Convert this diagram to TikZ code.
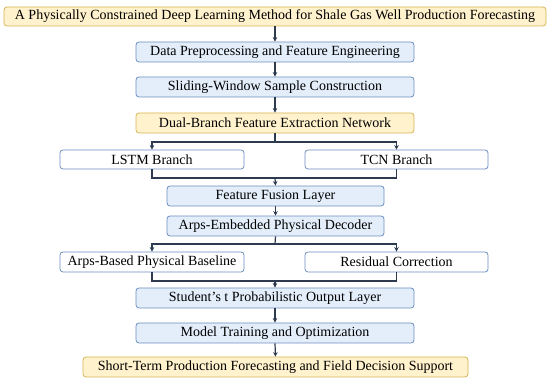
\documentclass[tikz,border=0pt]{standalone}
\usepackage{fontspec}
\setmainfont{Liberation Serif}
\newfontfamily\tnr{Liberation Serif}
\usetikzlibrary{arrows.meta}
\definecolor{yfill}{HTML}{FFF2CC}
\definecolor{ydraw}{HTML}{D6B656}
\definecolor{bfill}{HTML}{E3EEFA}
\definecolor{bdraw}{HTML}{6C8EBF}
\definecolor{arr}{HTML}{2E3B4E}
\begin{document}
\begin{tikzpicture}[x=1pt,y=-1pt,
  box/.style={draw, rounded corners=3pt, line width=0.8pt, inner sep=0pt, font=\tnr\fontsize{14}{16}\selectfont},
  ybox/.style={box, fill=yfill, draw=ydraw},
  bbox/.style={box, fill=bfill, draw=bdraw},
  wbox/.style={box, fill=white, draw=bdraw},
  conn/.style={draw=arr, line width=1.2pt, -{Stealth[length=4.5pt,width=4.5pt]}},
  line/.style={draw=arr, line width=1.2pt}]
\useasboundingbox (0,0) rectangle (550,382);
\newcommand{\bx}[7]{\node[#1, minimum width={#4-#2}, minimum height={#5-#3}] (#6) at ({(#2+#4)/2},{(#3+#5)/2}) {#7};}
\bx{ybox}{4}{7}{546}{26}{t}{A Physically Constrained Deep Learning Method for Shale Gas Well Production Forecasting}
\bx{bbox}{136}{42}{414}{62}{a}{Data Preprocessing and Feature Engineering}
\bx{bbox}{136}{77}{414}{97}{b}{Sliding-Window Sample Construction}
\bx{ybox}{136}{113}{414}{133}{c}{Dual-Branch Feature Extraction Network}
\bx{wbox}{60}{150}{244}{169}{l}{LSTM Branch}
\bx{wbox}{305}{150}{488}{169}{r}{TCN Branch}
\bx{bbox}{167}{186}{384}{206}{f}{Feature Fusion Layer}
\bx{bbox}{167}{216}{384}{236}{d}{Arps-Embedded Physical Decoder}
\bx{wbox}{60}{252}{244}{272}{p}{Arps-Based Physical Baseline}
\bx{wbox}{305}{252}{488}{272}{q}{Residual Correction}
\bx{bbox}{136}{288}{414}{308}{s}{Student’s t Probabilistic Output Layer}
\bx{bbox}{136}{323}{414}{343}{m}{Model Training and Optimization}
\bx{ybox}{83}{357}{468}{377}{o}{Short-Term Production Forecasting and Field Decision Support}
\draw[conn] (t.south) -- (a.north);
\draw[conn] (a.south) -- (b.north);
\draw[conn] (b.south) -- (c.north);
\coordinate (c1) at (275,142);
\draw[line] (c.south) -- (c1);
\draw[conn] (c1) -| (l.north);
\draw[conn] (c1) -| (r.north);
\coordinate (f1) at (275,178);
\draw[line] (l.south) |- (f1);
\draw[line] (r.south) |- (f1);
\draw[conn] (f1) -- (f.north);
\draw[conn] (f.south) -- (d.north);
\coordinate (d1) at (275,244);
\draw[line] (d.south) -- (d1);
\draw[conn] (d1) -| (p.north);
\draw[conn] (d1) -| (q.north);
\coordinate (s1) at (275,281);
\draw[line] (p.south) |- (s1);
\draw[line] (q.south) |- (s1);
\draw[conn] (s1) -- (s.north);
\draw[conn] (s.south) -- (m.north);
\draw[conn] (m.south) -- (o.north);
\end{tikzpicture}
\end{document}
